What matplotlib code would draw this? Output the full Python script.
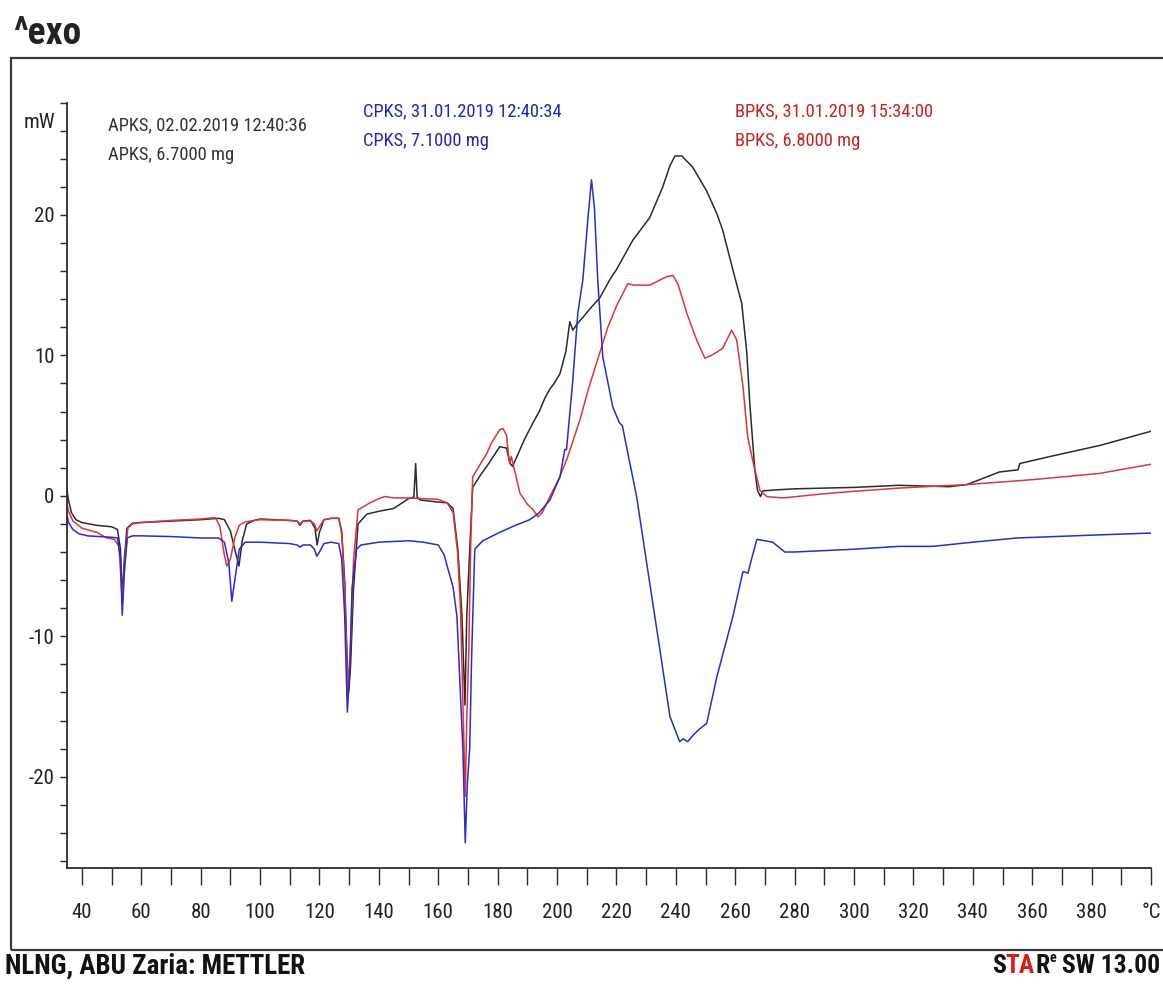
import matplotlib
matplotlib.use("Agg")
import matplotlib.pyplot as plt
from matplotlib import font_manager
from matplotlib.patches import Rectangle
from matplotlib.ticker import FixedLocator, MultipleLocator

W, H = 1163, 985
plt.rcParams["axes.unicode_minus"] = False

# prefer a narrow face for the report text
installed = {f.name for f in font_manager.fontManager.ttflist}
narrow = [n for n in ("Liberation Sans Narrow", "Roboto Condensed",
                      "Open Sans Condensed", "DejaVu Sans Condensed")
          if n in installed]
NARROW = narrow + ["DejaVu Sans"]
STRETCH = "condensed"

# APKS (black)
t_apks = [35, 35.5, 36.5, 38, 40, 45, 50, 52, 53, 53.6,
          54.3, 55.2, 57, 60, 70, 80, 86, 88, 90, 91.5,
          92.9, 94, 95.5, 98, 100, 105, 110, 112.5, 113.4, 114.5,
          117, 118.5, 119.2, 120, 121.5, 124, 126.5, 127.5, 128.5, 129.3,
          129.9, 130.5, 131.5, 133, 136, 140, 145, 150, 151.8, 152.4,
          152.9, 154, 158, 163, 165, 166.6, 168, 169.0, 169.6, 170.6,
          171.6, 174, 177, 180.7, 183, 184.2, 185, 186.5, 189, 191.9,
          194, 196, 197.6, 199, 201, 203, 204.3, 205.3, 207, 208.7,
          211, 214.4, 217.8, 220, 225.5, 231.2, 235.6, 238, 239.7, 242,
          245.7, 250.4, 253.8, 255.8, 259.2, 262.2, 263.9, 264.9, 266.6, 267.5,
          268.5, 269.3, 272, 280, 290, 300, 315, 332, 338, 349,
          355.2, 355.8, 366, 383, 400]
p_apks = [0.4, -0.3, -1.2, -1.7, -1.9, -2.1, -2.2, -2.4, -3.8, -7.2,
          -4.5, -2.3, -1.95, -1.9, -1.8, -1.7, -1.6, -1.7, -2.5, -3.8,
          -5.0, -3.2, -2.0, -1.75, -1.65, -1.7, -1.75, -1.8, -2.1, -1.8,
          -1.75, -2.3, -3.5, -2.6, -1.7, -1.6, -1.6, -2.5, -6.0, -11.5,
          -13.9, -12.0, -6.5, -2.0, -1.3, -1.1, -0.9, -0.2, -0.1, 2.3,
          -0.1, -0.3, -0.4, -0.5, -0.9, -3.8, -8.6, -14.9, -8.6, -3.8,
          0.6, 1.4, 2.3, 3.5, 3.4, 2.3, 2.1, 2.8, 4.0, 5.2,
          6.0, 7.0, 7.6, 8.0, 8.7, 10.3, 12.4, 11.8, 12.3, 12.7,
          13.3, 14.1, 15.4, 16.1, 18.2, 19.8, 22.0, 23.5, 24.2, 24.2,
          23.4, 21.7, 20.1, 18.9, 16.1, 13.7, 10.2, 6.6, 1.85, 0.4,
          -0.05, 0.35, 0.4, 0.5, 0.55, 0.6, 0.75, 0.65, 0.8, 1.7,
          1.85, 2.3, 2.8, 3.6, 4.6]

# CPKS (blue)
t_cpks = [35, 35.5, 37, 39, 42, 46, 50, 52, 53, 53.6,
          54.3, 55.3, 57, 60, 70, 80, 86, 88, 89.5, 90.5,
          91.5, 93, 95, 100, 110, 112.5, 113.4, 114.5, 117, 118.3,
          119.1, 120, 121.5, 124, 126.5, 127.5, 128.5, 129.4, 130.2, 131,
          132.5, 134, 140, 150, 155, 160, 162, 163, 165, 166.3,
          167.3, 168.3, 169.1, 169.8, 170.6, 171.3, 172.3, 175, 180.7, 186,
          190.8, 194, 197.6, 201, 202.6, 203.2, 205.3, 207, 208.7, 210.3,
          211.6, 212.6, 213.7, 215.4, 218.8, 221, 222, 223.4, 226.8, 231.2,
          234.6, 238, 241.3, 242.5, 244, 246, 248, 250.4, 253.8, 259.2,
          262.6, 264.3, 265.5, 267.3, 270, 272.6, 276.7, 280, 300, 315,
          326.5, 340, 355, 380, 400]
p_cpks = [-1.3, -1.9, -2.4, -2.7, -2.85, -2.9, -2.95, -3.0, -4.5, -8.5,
          -5.5, -3.0, -2.85, -2.85, -2.9, -3.0, -3.0, -3.3, -4.8, -7.5,
          -6.0, -3.8, -3.3, -3.3, -3.4, -3.5, -3.65, -3.5, -3.5, -3.8,
          -4.3, -4.0, -3.4, -3.3, -3.4, -4.5, -8.5, -15.4, -12.5, -6.5,
          -3.8, -3.5, -3.3, -3.2, -3.3, -3.5, -4.2, -5.0, -6.5, -8.6,
          -13.3, -18.0, -24.7, -20.5, -18.0, -11.0, -3.8, -3.2, -2.6, -2.1,
          -1.7, -1.2, -0.3, 1.35, 3.3, 3.3, 8.2, 13.0, 15.4, 19.5,
          22.5, 20.5, 15.4, 9.9, 6.3, 5.2, 5.0, 3.5, -0.05, -6.2,
          -10.9, -15.7, -17.5, -17.3, -17.5, -17.0, -16.6, -16.2, -12.9, -8.6,
          -5.4, -5.5, -4.5, -3.1, -3.2, -3.3, -4.0, -4.0, -3.8, -3.6,
          -3.6, -3.3, -3.0, -2.8, -2.65]

# BPKS (red)
t_bpks = [35, 35.5, 37, 40, 45, 48.4, 51, 52.5, 53.6, 54.5,
          55.5, 57, 60, 70, 80, 85, 86.5, 87.8, 88.8, 90,
          91.5, 93, 95, 100, 110, 112.5, 113.4, 114.5, 117, 118.3,
          119.1, 120, 121.5, 124, 126.5, 127.5, 128.5, 129.6, 130.4, 131.5,
          133, 137, 140, 142, 145, 150, 155, 160, 163, 165,
          166.5, 167.5, 169.1, 169.6, 170.3, 170.9, 171.6, 174, 176.3, 178,
          180.7, 181.8, 183, 184, 184.6, 185.5, 187.5, 190, 192, 193.6,
          195, 197.6, 200.6, 203.3, 207.7, 210.7, 214.4, 217.1, 220, 223.8,
          226, 231.2, 234, 236.9, 239, 240.7, 243.7, 247, 249.8, 252,
          255.8, 258.8, 260.5, 262.6, 264.2, 266, 268.3, 270.6, 276, 290,
          298.6, 315, 338, 360, 382.8, 400]
p_bpks = [-0.6, -1.1, -1.8, -2.3, -2.6, -3.0, -3.1, -3.6, -7.4, -4.5,
          -2.3, -2.0, -1.9, -1.75, -1.65, -1.55, -2.2, -4.0, -5.0, -4.5,
          -3.0, -2.1, -1.85, -1.7, -1.75, -1.8, -2.0, -1.8, -1.8, -2.0,
          -2.5, -2.2, -1.7, -1.6, -1.6, -2.7, -6.5, -14.3, -11.0, -4.5,
          -1.0, -0.5, -0.2, -0.05, -0.15, -0.15, -0.2, -0.25, -0.5, -1.2,
          -4.0, -8.0, -21.4, -16.0, -11.0, -3.8, 1.35, 2.2, 3.0, 3.8,
          4.7, 4.8, 4.3, 2.3, 2.8, 2.0, 0.2, -0.6, -1.0, -1.5,
          -1.2, -0.05, 1.2, 2.6, 5.4, 7.7, 10.2, 12.0, 13.5, 15.1,
          15.0, 15.0, 15.3, 15.6, 15.7, 15.1, 13.0, 11.1, 9.8, 10.0,
          10.5, 11.8, 11.1, 7.8, 4.2, 2.4, 0.4, -0.05, -0.15, 0.15,
          0.3, 0.55, 0.8, 1.15, 1.6, 2.25]

x_major = [40, 60, 80, 100, 120, 140, 160, 180, 200, 220, 240,
           260, 280, 300, 320, 340, 360, 380, 400]
x_labels = ["40", "60", "80", "100", "120", "140", "160", "180", "200",
            "220", "240", "260", "280", "300", "320", "340", "360", "380", "°C"]
y_major = [-20, -10, 0, 10, 20]


def fx(x):
    return x / W


def fy(y):
    return 1 - y / H


fig = plt.figure(figsize=(W / 100, H / 100), dpi=100)
renderer = fig.canvas.get_renderer()


def put(x, y, s, width=None, size=14, **kw):
    """Place report text at pixel (x, y); shrink it to fit width if given."""
    t = fig.text(fx(x), fy(y), s, fontsize=size, family=NARROW,
                 fontstretch=STRETCH, va="center", **kw)
    if width is not None:
        w = t.get_window_extent(renderer).width
        if w > width:
            t.set_fontsize(size * width / w)
    return t


# outer frame of the report page
fig.add_artist(Rectangle((fx(11), fy(950)), 1.2, fy(58) - fy(950),
                         transform=fig.transFigure, fill=False,
                         edgecolor="#3a3a3a", linewidth=1.6))

ax = fig.add_axes([fx(67), fy(868), fx(1151) - fx(67), fy(102.6) - fy(868)])
ax.set_xlim(35, 400)
ax.set_ylim(-26.5, 28)

ax.plot(t_apks, p_apks, color="#2b2b2b", lw=1.1)
ax.plot(t_bpks, p_bpks, color="#e03535", lw=1.1)
ax.plot(t_cpks, p_cpks, color="#2a2ad2", lw=1.1)

for side in ("top", "right"):
    ax.spines[side].set_visible(False)
for side in ("left", "bottom"):
    ax.spines[side].set_color("#2b2b2b")
    ax.spines[side].set_linewidth(1.3)

ax.xaxis.set_major_locator(FixedLocator(x_major))
ax.set_xticklabels(x_labels)
ax.xaxis.set_minor_locator(MultipleLocator(10))
ax.yaxis.set_major_locator(FixedLocator(y_major))
ax.yaxis.set_minor_locator(FixedLocator(range(-26, 29, 2)))

ax.tick_params(axis="x", which="both", direction="out", length=12,
               width=1.0, color="#2b2b2b")
ax.tick_params(axis="x", which="major", pad=13, labelsize=15,
               labelcolor="#222222")
ax.tick_params(axis="y", which="both", direction="out", length=5,
               width=1.0, color="#2b2b2b")
ax.tick_params(axis="y", which="major", pad=4, labelsize=15,
               labelcolor="#222222")
for lab in ax.get_xticklabels() + ax.get_yticklabels():
    lab.set_family(NARROW)
    lab.set_fontstretch(STRETCH)

ax.text(-0.011, 26.6, "mW", transform=ax.get_yaxis_transform(),
        ha="right", va="center", fontsize=15, family=NARROW,
        fontstretch=STRETCH, color="#222222")

# sample headers
put(108, 125, "APKS, 02.02.2019 12:40:36", size=13.3, color="#333333")
put(108, 155, "APKS, 6.7000 mg", size=13.3, color="#333333")
put(363, 111, "CPKS, 31.01.2019 12:40:34", size=13.3, color="#2323c8")
put(363, 141, "CPKS, 7.1000 mg", size=13.3, color="#2323c8")
put(735, 111, "BPKS, 31.01.2019 15:34:00", size=13.3, color="#cc2020")
put(735, 141, "BPKS, 6.8000 mg", size=13.3, color="#cc2020")

put(13, 34, "^exo", size=27, width=72, fontweight="bold", color="#222222")
put(5, 966, "NLNG, ABU Zaria: METTLER", size=21, width=300,
    fontweight="bold", color="#111111")

# software badge, drawn piece by piece and right-aligned at the frame
pieces = [("S", "#111111", 20, 0), ("TA", "#e01818", 20, 0),
          ("R", "#111111", 20, 0), ("e", "#111111", 11, 8),
          (" SW 13.00", "#111111", 20, 0)]
parts = [put(0, 966 - rise, txt, size=size, fontweight="bold", color=col)
         for txt, col, size, rise in pieces]
widths = [p.get_window_extent(renderer).width for p in parts]
total = sum(widths)
scale = min(1.0, 168 / total)
x0 = 1160 - total * scale
for p, w, (txt, col, size, rise) in zip(parts, widths, pieces):
    p.set_fontsize(size * scale)
    p.set_x(fx(x0))
    x0 += w * scale

fig.savefig("out.png", dpi=100, facecolor="white")
